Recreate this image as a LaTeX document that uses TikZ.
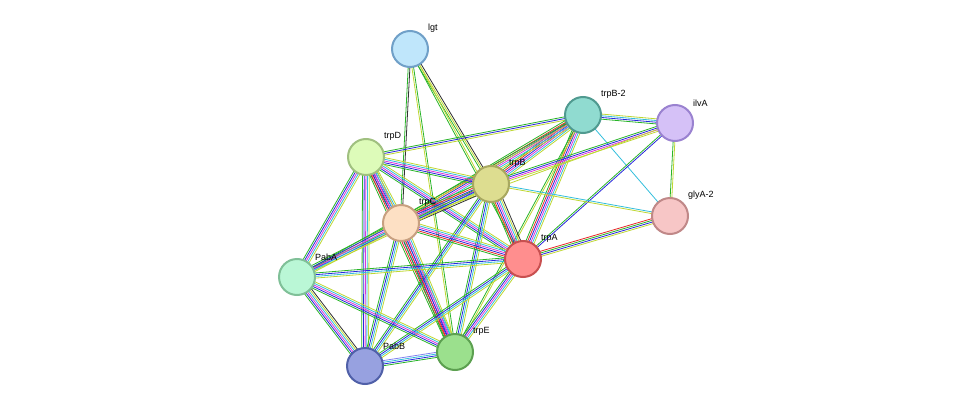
\documentclass[tikz,border=0pt]{standalone}
\usepackage{fontspec}
\setmainfont{Liberation Sans}
\usetikzlibrary{calc,backgrounds}
\definecolor{eg}{RGB}{40,180,40}
\definecolor{eb}{RGB}{40,40,220}
\definecolor{em}{RGB}{220,50,220}
\definecolor{ec}{RGB}{50,190,220}
\definecolor{ey}{RGB}{190,215,50}
\definecolor{ek}{RGB}{50,50,50}
\definecolor{er}{RGB}{230,40,40}
\definecolor{ep}{RGB}{130,130,240}
\newcommand\medge[4]{\foreach \c [count=\i] in {#4}{\pgfmathsetmacro\o{(\i-(#3+1)/2)*1.7}\draw[\c,line width=0.8pt] ($(#1)!\o pt!90:(#2)$) -- ($(#2)!\o pt!-90:(#1)$);}}
\tikzset{prot/.style={circle,minimum size=36pt,inner sep=0pt,line width=2pt},
lab/.style={font=\fontsize{9}{10}\selectfont,anchor=south west,inner sep=0pt}}
\begin{document}
\begin{tikzpicture}[x=1pt,y=-1pt]
\useasboundingbox (0,0) rectangle (976,412);
\foreach \n/\x/\y/\f/\s/\t in {lgt/410/49/BFE6FB/70A0C8/lgt, trpB2/583/115/90DBD0/509A90/trpB-2, ilvA/675/123/D5C1F7/9A82D0/ilvA, trpD/366/157/DDFBB9/A0C080/trpD, trpB/491/184/DDDD90/A8A860/trpB, glyA2/670/216/F7C6C6/C08888/glyA-2, trpC/401/223/FDE0C4/C8A080/trpC, trpA/523/259/FF8E8E/C85050/trpA, PabA/297/277/BAF7D6/80C098/PabA, trpE/455/352/9BE08D/5CA050/trpE, PabB/365/366/97A1E0/5060A8/PabB}{
\definecolor{f\n}{HTML}{\f}\definecolor{s\n}{HTML}{\s}
\node[prot,fill=f\n,draw=s\n] (\n) at (\x,\y) {};
\node[lab] (l\n) at (\x+18,\y-16) {\t};
}
\begin{pgfonlayer}{background}
\medge{lgt}{trpC}{2}{eg,ek}
\medge{lgt}{trpB}{3}{eg,ey,ek}
\medge{lgt}{trpA}{2}{eg,ey}
\medge{lgt}{trpE}{2}{ey,eg}
\medge{trpB2}{trpD}{3}{eg,eb,ey}
\medge{trpB2}{trpB}{6}{eg,er,eb,em,ec,ey}
\medge{trpB2}{trpC}{6}{eg,er,eb,em,ec,ey}
\medge{trpB2}{trpA}{6}{eg,er,eb,em,ec,ey}
\medge{trpB2}{ilvA}{4}{eg,eb,ec,ey}
\medge{trpB2}{glyA2}{1}{ec}
\medge{trpB2}{trpE}{2}{eg,ey}
\medge{trpB2}{PabA}{2}{eg,ey}
\medge{ilvA}{trpB}{4}{eg,eb,em,ey}
\medge{ilvA}{trpA}{2}{eg,eb}
\medge{ilvA}{glyA2}{2}{eg,ey}
\medge{ilvA}{trpC}{1}{ey}
\medge{glyA2}{trpA}{4}{er,eg,eb,ey}
\medge{glyA2}{trpB}{2}{ec,ey}
\medge{trpD}{trpB}{5}{eg,eb,em,ec,ey}
\medge{trpD}{trpC}{6}{eg,er,eb,em,ec,ey}
\medge{trpD}{trpA}{5}{eg,eb,em,ec,ey}
\medge{trpD}{PabA}{5}{eg,eb,em,ec,ey}
\medge{trpD}{PabB}{5}{eg,eb,em,ec,ey}
\medge{trpD}{trpE}{6}{eg,er,eb,em,ec,ey}
\medge{trpB}{trpC}{7}{eg,er,eb,em,ec,ey,ek}
\medge{trpB}{trpA}{7}{eg,er,eb,em,ec,ey,ek}
\medge{trpB}{PabA}{3}{eg,eb,ey}
\medge{trpB}{PabB}{4}{eg,eb,ec,ey}
\medge{trpB}{trpE}{4}{eg,eb,ec,ey}
\medge{trpC}{trpA}{6}{eg,er,eb,em,ec,ey}
\medge{trpC}{PabA}{5}{eg,eb,em,ec,ey}
\medge{trpC}{PabB}{4}{eg,eb,ec,ey}
\medge{trpC}{trpE}{6}{eg,er,eb,em,ec,ey}
\medge{trpA}{PabA}{4}{eg,eb,ec,ey}
\medge{trpA}{PabB}{4}{eg,eb,ec,ey}
\medge{trpA}{trpE}{5}{eg,eb,em,ec,ey}
\medge{PabA}{PabB}{6}{eg,eb,em,ec,ey,ek}
\medge{PabA}{trpE}{5}{eg,eb,em,ec,ey}
\medge{PabB}{trpE}{4}{eg,eb,ec,ep}
\end{pgfonlayer}
\end{tikzpicture}
\end{document}
